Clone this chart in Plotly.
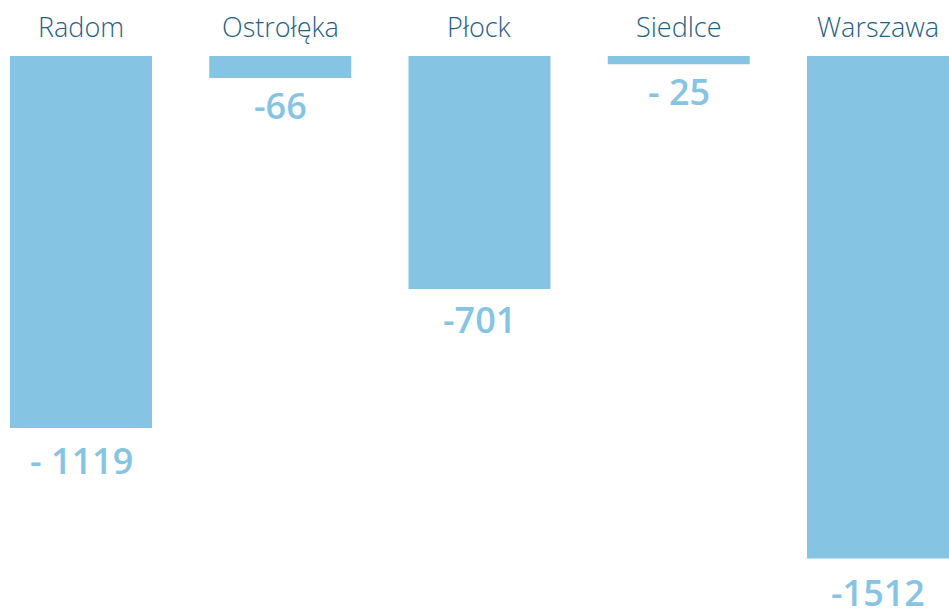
import plotly.graph_objects as go

categories = ["Radom", "Ostrołęka", "Płock", "Siedlce", "Warszawa"]
values = [-1119, -66, -701, -25, -1512]
value_labels = ["- 1119", "-66", "-701", "- 25", "-1512"]

W, H = 949, 610
top_m = 56
px_per_unit = 0.3324
plot_h = H - top_m
ymin = -plot_h / px_per_unit

xs = list(range(len(categories)))
fig = go.Figure(go.Bar(
    x=xs, y=values, width=0.7127,
    marker=dict(color="#86C4E4", line=dict(width=0)),
    hoverinfo="skip",
))

ann = []
for x, c in zip(xs, categories):
    ann.append(dict(x=x, y=1, xref="x", yref="paper", text=c, showarrow=False,
                    yanchor="middle", yshift=30,
                    font=dict(family="Open Sans", size=27, color="#1F6188", weight=300)))
for x, v, t in zip(xs, values, value_labels):
    ann.append(dict(x=x, y=v, xref="x", yref="y", text=t, showarrow=False,
                    yanchor="middle", yshift=-(27.5 + 0.0045 * abs(v)),
                    font=dict(family="Open Sans", size=36, color="#86C4E4", weight=600)))

fig.update_layout(
    width=W, height=H,
    margin=dict(l=0, r=0, t=top_m, b=0),
    paper_bgcolor="white", plot_bgcolor="white",
    showlegend=False,
    xaxis=dict(range=[-81/199.25, 4 + 71/199.25], visible=False),
    yaxis=dict(range=[ymin, 0], visible=False),
    annotations=ann,
)
fig.write_html("out.html", config={"displayModeBar": False},
               post_script="document.body.style.margin='0';document.body.style.overflow='hidden';")
